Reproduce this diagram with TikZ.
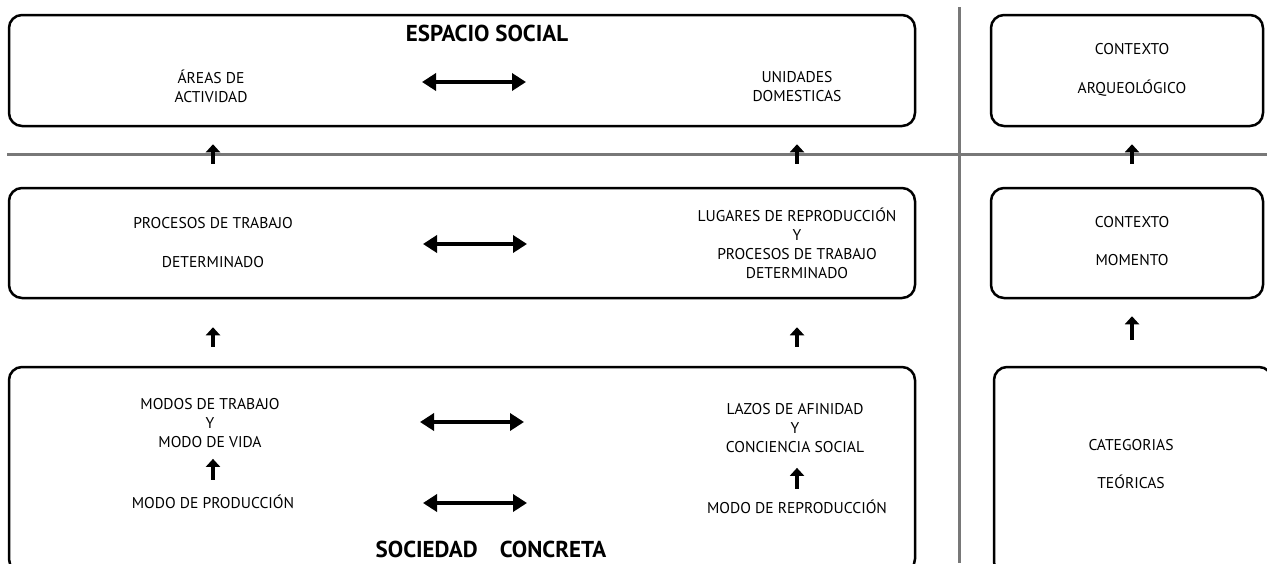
\documentclass[tikz,border=0pt]{standalone}
\usepackage{fontspec}
\setmainfont{PT Sans}
\usetikzlibrary{arrows.meta, positioning}
\definecolor{rulegray}{RGB}{120,120,120}
\tikzset{
    box/.style={draw, line width=2.5pt, rounded corners=13pt, inner sep=0pt},
    txt/.style={align=center, inner sep=0pt, font=\fontsize{15.6}{19}\selectfont},
    heading/.style={inner sep=0pt, font=\fontsize{23}{25}\selectfont\bfseries},
    uparr/.style={-{Triangle[length=8pt,width=14pt]}, line width=4pt},
    dbl/.style={{Triangle[length=14pt,width=17pt]}-{Triangle[length=14pt,width=17pt]}, line width=4.5pt},
    divider/.style={draw=rulegray, line width=3pt}
}

\begin{document}
\begin{tikzpicture}[x=1pt, y=-1pt]
        \useasboundingbox (0,0) rectangle (1267,563);
        \clip (0,0) rectangle (1267,563);

        % separators
        \draw[divider] (7,154) -- (1267,154);
        \draw[divider] (959,7) -- (959,563);

        % boxes
        \node (espacio) [box, minimum width=906pt, minimum height=111pt] at (462,70.5) {};
        \node (ctxA) [box, minimum width=272pt, minimum height=111pt] at (1127,70.5) {};
        \node (procesos) [box, minimum width=906pt, minimum height=110pt] at (462,243) {};
        \node (ctxB) [box, minimum width=272pt, minimum height=110pt] at (1127,243) {};
        \node (sociedad) [box, minimum width=906pt, minimum height=205pt] at (462,469.5) {};
        \node (teoria) [box, minimum width=278pt, minimum height=208pt] at (1133,471) {};

        % texts
        \node (tEsp) [heading] at (487,33) {ESPACIO SOCIAL};
        \node (areas) [txt] at (211,86.5) {ÁREAS DE\\ACTIVIDAD};
        \node (unid) [txt] at (797,86.5) {UNIDADES\\DOMESTICAS};
        \node (arq) [txt] at (1132,69.5) {CONTEXTO\\[20pt]ARQUEOLÓGICO};
        \node (proc) [txt] at (213,242.5) {PROCESOS DE TRABAJO\\[20pt]DETERMINADO};
        \node (lug) [txt] at (797,243.5) {LUGARES DE REPRODUCCIÓN\\Y\\PROCESOS DE TRABAJO\\DETERMINADO};
        \node (mom) [txt] at (1132,241) {CONTEXTO\\[19pt]MOMENTO};
        \node (modos) [txt] at (210,423) {MODOS DE TRABAJO\\Y\\MODO DE VIDA};
        \node (prod) [txt] at (213,502) {MODO DE PRODUCCIÓN};
        \node (lazos) [txt] at (795,428) {LAZOS DE AFINIDAD\\Y\\CONCIENCIA SOCIAL};
        \node (repro) [txt] at (797,507) {MODO DE REPRODUCCIÓN};
        \node (cat) [txt] at (1131,464) {CATEGORIAS\\[19pt]TEÓRICAS};
        \node (tSoc) [heading] at (491,549) {SOCIEDAD\hspace{22pt}CONCRETA};

        % up arrows
        \draw[uparr, shorten <=23pt, shorten >=17pt] (proc |- procesos.north) -- (proc |- espacio.south);
        \draw[uparr, shorten <=23pt, shorten >=17pt] (lug |- procesos.north) -- (lug |- espacio.south);
        \draw[uparr, shorten <=23pt, shorten >=17pt] (mom |- ctxB.north) -- (mom |- ctxA.south);
        \draw[uparr, shorten <=19pt, shorten >=28pt] (proc |- sociedad.north) -- (proc |- procesos.south);
        \draw[uparr, shorten <=19pt, shorten >=28pt] (lug |- sociedad.north) -- (lug |- procesos.south);
        \draw[uparr, shorten <=26pt, shorten >=17pt] (mom |- teoria.north) -- (mom |- ctxB.south);
        \draw[uparr, shorten <=15pt, shorten >=11pt] (prod.north) -- (prod |- modos.south);
        \draw[uparr, shorten <=11pt, shorten >=15pt] (repro.north) -- (repro |- lazos.south);

        % double arrows
        \coordinate (d1l) at (422,82);  \coordinate (d1r) at (526,82);
        \coordinate (d2l) at (423,244); \coordinate (d2r) at (527,244);
        \coordinate (d3l) at (420,422); \coordinate (d3r) at (524,422);
        \coordinate (d4l) at (423,503); \coordinate (d4r) at (527,503);
        \draw[dbl] (d1l) -- (d1r);
        \draw[dbl] (d2l) -- (d2r);
        \draw[dbl] (d3l) -- (d3r);
        \draw[dbl] (d4l) -- (d4r);
    \end{tikzpicture}
\end{document}
